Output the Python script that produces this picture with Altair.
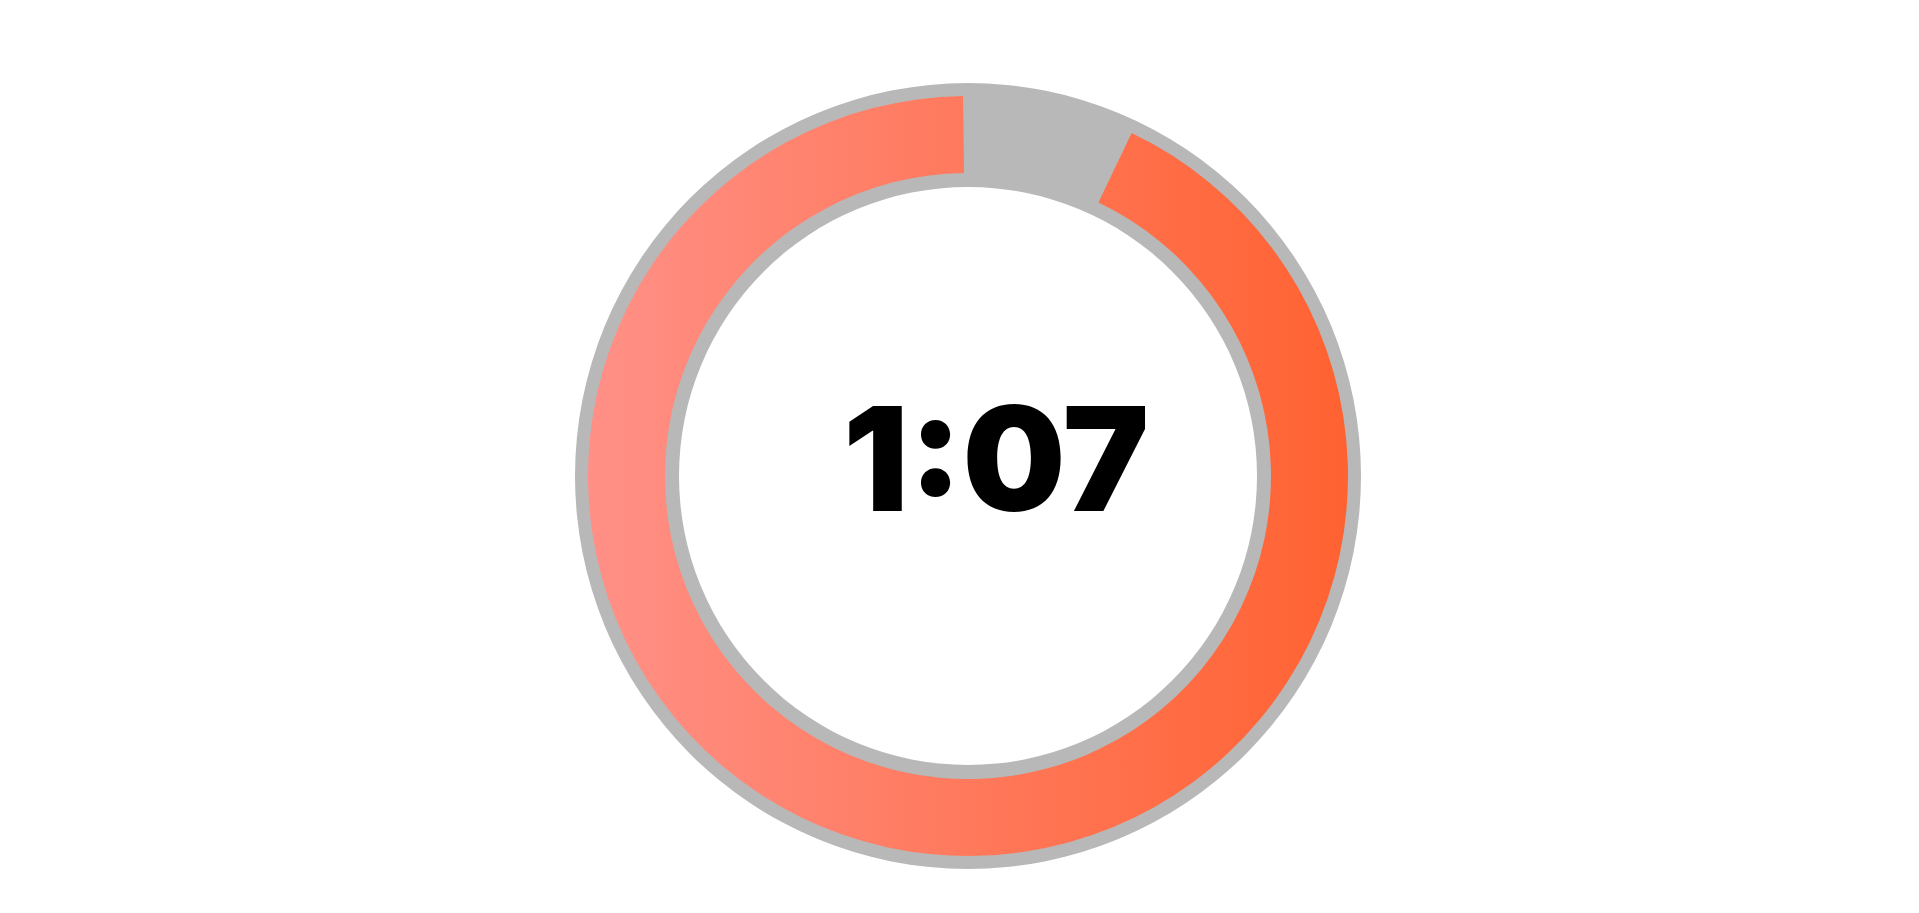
import math

import altair as alt
import pandas as pd

# countdown ring, angles in degrees clockwise from 12 o'clock
track_start = [0.0]
track_end = [360.0]
remaining_start = [25.5]
remaining_end = [359.25]
time_label = ["1:07"]

CENTER_X = 960
CENTER_Y = 468

angle_scale = alt.Scale(domain=[0, 360], range=[0, 2 * math.pi])

track = (
    alt.Chart(pd.DataFrame({"start": track_start, "end": track_end}))
    .mark_arc(radius=393, radius2=289, color="#b8b8b8")
    .encode(
        theta=alt.Theta("start:Q", scale=angle_scale),
        theta2="end:Q",
        x=alt.value(CENTER_X),
        y=alt.value(CENTER_Y),
    )
)

orange_fade = alt.Gradient(
    gradient="linear",
    stops=[
        alt.GradientStop(color="#ff9087", offset=0),
        alt.GradientStop(color="#ff6231", offset=1),
    ],
    x1=0,
    x2=1,
    y1=0,
    y2=0,
)

remaining = (
    alt.Chart(pd.DataFrame({"start": remaining_start, "end": remaining_end}))
    .mark_arc(radius=380, radius2=303, color=orange_fade)
    .encode(
        theta=alt.Theta("start:Q", scale=angle_scale),
        theta2="end:Q",
        x=alt.value(CENTER_X),
        y=alt.value(CENTER_Y),
    )
)

label = (
    alt.Chart(pd.DataFrame({"label": time_label}))
    .mark_text(
        font="Inter",
        fontSize=145,
        fontWeight=900,
        color="#000000",
        align="center",
        baseline="alphabetic",
    )
    .encode(text="label:N", x=alt.value(988), y=alt.value(503))
)

chart = (
    alt.layer(track, remaining, label)
    .properties(width=1903, height=897, padding=0, autosize="none", background="#ffffff")
    .configure_view(strokeWidth=0)
)

chart.save("out.html", embed_options={"renderer": "svg", "actions": False})
